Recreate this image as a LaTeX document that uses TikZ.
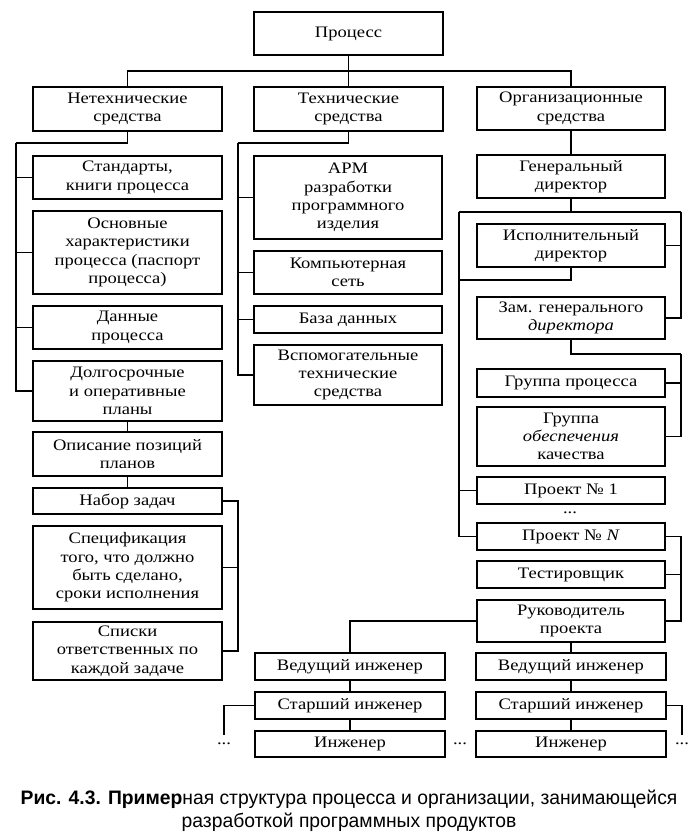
\documentclass[tikz,border=0pt]{standalone}
\usepackage{fontspec}
\setmainfont{Liberation Serif}[FakeStretch=1.16]
\newfontfamily\capfont{Liberation Sans}[FakeStretch=0.99]
\usetikzlibrary{calc}
\tikzset{
  box/.style={draw, line width=1.1pt, align=center, inner sep=0pt,
    font=\fontsize{16}{18.3}\selectfont},
  conn/.style={line width=1.1pt},
  dotsn/.style={inner sep=0pt, font=\fontsize{16}{18}\selectfont}
}
\newcommand\bx[6]{\node[box, minimum width={(#4-#2)*1pt}, minimum height={(#5-#3)*1pt}] (#1) at ({(#2+#4)/2},{(#3+#5)/2}) {#6};}
\begin{document}
\begin{tikzpicture}[x=1pt,y=-1pt]
\useasboundingbox (0,0) rectangle (696,839);
\bx{proc}{254}{12}{443}{55}{Процесс}
\bx{net}{33}{87}{222}{131}{Нетехнические\\средства}
\bx{tech}{254}{87}{443}{131}{Технические\\средства}
\bx{org}{477}{87}{665}{130}{Организационные\\средства}
\bx{std}{33}{156}{222}{199}{Стандарты,\\книги процесса}
\bx{osn}{33}{211}{222}{294}{Основные\\характеристики\\процесса (паспорт\\процесса)}
\bx{dan}{33}{306}{222}{349}{Данные\\процесса}
\bx{dol}{33}{361}{222}{421}{Долгосрочные\\и оперативные\\планы}
\bx{opi}{33}{432}{222}{476}{Описание позиций\\планов}
\bx{nab}{33}{488}{222}{514}{Набор задач}
\bx{spe}{33}{526}{222}{609}{Спецификация\\того, что должно\\быть сделано,\\сроки исполнения}
\bx{spi}{33}{622}{222}{680}{Списки\\ответственных по\\каждой задаче}
\bx{arm}{254}{156}{442}{239}{АРМ\\разработки\\программного\\изделия}
\bx{komp}{254}{251}{442}{294}{Компьютерная\\сеть}
\bx{baza}{254}{306}{442}{333}{База данных}
\bx{vsp}{254}{345}{442}{405}{Вспомогательные\\технические\\средства}
\bx{gen}{477}{155}{665}{198}{Генеральный\\директор}
\bx{isp}{477}{224}{665}{267}{Исполнительный\\директор}
\bx{zam}{477}{297}{665}{339}{Зам. генерального\\\textit{директора}}
\bx{grp}{477}{369}{665}{397}{Группа процесса}
\bx{gro}{477}{407}{665}{466}{Группа\\\textit{обеспечения}\\качества}
\bx{pr1}{477}{477}{665}{504}{Проект № 1}
\bx{prn}{477}{523}{665}{550}{Проект № \textit{N}}
\bx{tst}{477}{561}{665}{588}{Тестировщик}
\bx{ruk}{477}{600}{665}{642}{Руководитель\\проекта}
\bx{ved1}{255}{653}{445}{680}{Ведущий инженер}
\bx{ved2}{476}{653}{666}{680}{Ведущий инженер}
\bx{st1}{255}{692}{445}{719}{Старший инженер}
\bx{st2}{476}{692}{666}{719}{Старший инженер}
\bx{in1}{255}{731}{445}{757}{Инженер}
\bx{in2}{476}{731}{666}{757}{Инженер}
% dots
\node[dotsn] (dp) at (570,513) {...};
\node[dotsn] (dl) at (224,744) {...};
\node[dotsn] (dm) at (460,744) {...};
\node[dotsn] (dr) at (682,744) {...};
% coordinates
\coordinate (bus) at (125,71);
\coordinate (nb) at (16,143);
\coordinate (nr) at (238,501);
\coordinate (tb) at (238,143);
\coordinate (gL) at (459,212);
\coordinate (gR) at (681,212);
\coordinate (ib) at (459,280);
\coordinate (zr) at (681,354);
\coordinate (pr) at (681,537);
\coordinate (e1) at (224,735);
\coordinate (e2) at (682,735);
% connectors
\draw[conn] (proc.south) -- (tech.north);
\draw[conn] (net.north) -- (net.north |- bus) -- (org.north |- bus) -- (org.north);
\draw[conn] (net.south) |- (nb);
\foreach \n in {std,osn,dan,dol} \draw[conn] (nb) |- (\n.west);
\draw[conn] (dol) -- (opi);
\draw[conn] (opi) -- (nab);
\draw[conn] (nab.east) -- (nr) |- (spi.east);
\draw[conn] (nr) |- (spe.east);
\draw[conn] (tech.south) |- (tb);
\foreach \n in {arm,komp,baza,vsp} \draw[conn] (tb) |- (\n.west);
\draw[conn] (org) -- (gen);
\draw[conn] (gen.south) -- (gen.south |- gL);
\draw[conn] (gL) -- (gR);
\draw[conn] (gR) |- (zam.east);
\draw[conn] (gR) |- (isp.east);
\draw[conn] (isp.south) |- (ib);
\draw[conn] (gL) |- (prn.west);
\draw[conn] (gL) |- (pr1.west);
\draw[conn] (zam.south) |- (zr);
\draw[conn] (zr) |- (gro.east);
\draw[conn] (zr) |- (grp.east);
\draw[conn] (prn.east) -- (prn.east -| pr) |- (ruk.east);
\draw[conn] (pr) |- (tst.east);
\draw[conn] (ruk.west) -| (ved1.north);
\draw[conn] (ruk) -- (ved2);
\draw[conn] (ved1) -- (st1);
\draw[conn] (st1) -- (in1);
\draw[conn] (ved2) -- (st2);
\draw[conn] (st2) -- (in2);
\draw[conn] (st1.west) -| (e1);
\draw[conn] (st2.east) -| (e2);
% caption
\node[align=center, inner sep=0pt, font=\capfont\fontsize{19.5}{23}\selectfont] (cap) at (349,811)
  {\textbf{Рис. 4.3. Пример}ная структура процесса и организации, занимающейся\\разработкой программных продуктов};
\end{tikzpicture}
\end{document}
